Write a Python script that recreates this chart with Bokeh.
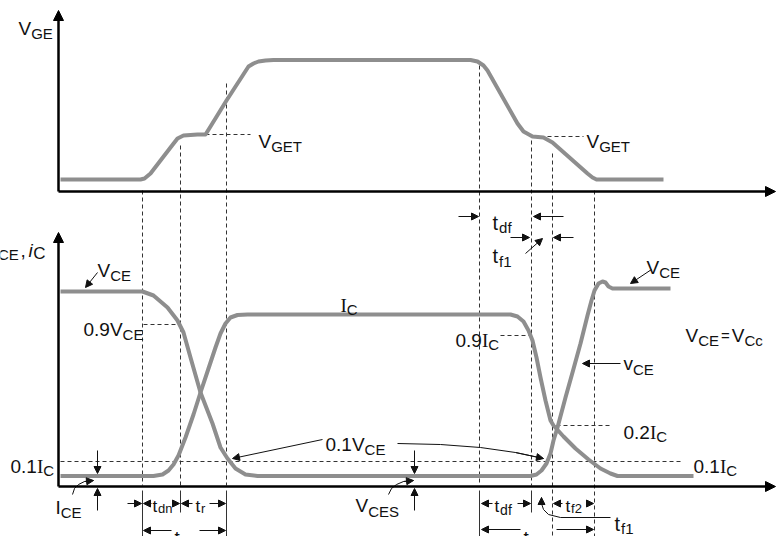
from bokeh.plotting import figure
from bokeh.models import Range1d, ColumnDataSource, Arrow, NormalHead
from bokeh.core.properties import value
from bokeh.embed import file_html
from bokeh.resources import INLINE

# ---------------- waveform data (diagram coordinates, y grows downward) -------------
vge_x = [60, 140, 144, 150, 160, 170, 177, 183, 197, 205, 210, 226, 248, 253, 258, 265, 273,
         470, 477, 483, 487, 517, 523, 532, 543, 552, 587, 592, 596, 663]
vge_y = [179, 179, 178, 173, 160, 147, 138, 135, 134, 134, 126, 100, 66, 63, 61, 60, 59.5,
         59.5, 61, 65, 70, 123, 131, 136, 137, 142, 173, 177, 179, 179]

vce_x = [60, 142, 153, 167, 177, 183, 190, 200, 212, 220, 227, 235, 245, 257,
         530, 536, 541, 546, 550, 553, 557, 565, 572, 580, 587, 591, 594, 598, 602, 605, 608, 612, 670]
vce_y = [291, 291, 295, 307, 320, 332, 357, 392, 423, 447, 458, 468, 474, 475.5,
         475.5, 474, 470, 463, 453, 440, 427, 397, 372, 343, 315, 300, 290, 283, 281, 282, 286, 288, 288]

ic_x = [60, 153, 162, 168, 173, 178, 185, 193, 200, 208, 215, 220, 225, 230, 237, 247,
        510, 517, 523, 528, 532, 536, 540, 545, 550, 553, 563, 575, 588, 600, 610, 617, 623, 693]
ic_y = [475.5, 475.5, 474, 470, 464, 455, 437, 414, 392, 368, 347, 333, 323, 317, 314.5, 314,
        314, 316, 321, 330, 340, 357, 377, 400, 420, 425, 436, 448, 459, 468, 473, 475.5, 475.5, 475.5]

# ---------------- guides ----------------
vguide_x = [142, 180, 226, 479, 531, 552, 594]
vguide_top = [190, 145, 83, 65, 140, 153, 190]
vguide_bottom = [485, 485, 485, 485, 485, 536, 536]

tick_x = [142, 180, 226, 479, 531]
tick_top = [490, 490, 490, 490, 490]
tick_bottom = [536, 512, 536, 536, 512]

hguide_x0 = [205, 547, 143, 500, 556, 60]
hguide_x1 = [250, 583, 180, 529, 610, 683]
hguide_y = [134, 136, 324, 335, 425, 461]

# axes (start -> arrow tip)
axis_x0 = [58, 58, 58, 58]
axis_y0 = [191, 191, 486, 486]
axis_x1 = [58, 775, 58, 775]
axis_y1 = [10, 191, 232, 486]

# small straight annotation arrows
arr_x0 = [97, 322, 620, 651, 458, 563, 510, 573, 525, 97, 97, 414, 414,
          127, 151, 172, 192, 209, 171, 199, 492, 517, 562, 587, 520, 556]
arr_y0 = [272, 439, 363, 269, 216, 216, 237, 237, 253, 450, 510, 450, 510,
          503, 503, 503, 503, 503, 530, 530, 503, 503, 503, 503, 529, 529]
arr_x1 = [85, 232, 582, 630, 478, 533, 529, 553, 542, 97, 97, 414, 414,
          141, 143, 179, 181, 225, 143, 225, 481, 530, 553, 593, 481, 593]
arr_y1 = [287, 458, 363, 283, 216, 216, 237, 237, 238, 473, 488, 473, 488,
          503, 503, 503, 503, 503, 530, 530, 503, 503, 503, 503, 529, 529]

# curved annotation arrows (head at the last point)
curve_xs = [[72, 74, 78, 84, 93],
            [388, 391, 396, 403, 413],
            [397, 440, 480, 515, 543],
            [610, 560, 548, 543, 541, 541]]
curve_ys = [[494, 488, 484, 481, 480],
            [494, 488, 484, 481, 480],
            [443, 444, 447, 452, 458],
            [517, 517, 514, 509, 503, 497]]

# labels: x, baseline y, main size, sub size, sub drop, runs
# run kinds: m=main sans, s=subscript, r=serif main, i=italic main, e=sub-size sign on main baseline
labels = [
    (18, 28, 19, 15, 5, [("V", "m"), ("GE", "s")]),
    (258, 141, 19, 15, 5, [("V", "m"), ("GET", "s")]),
    (586, 141, 19, 15, 5, [("V", "m"), ("GET", "s")]),
    (-12, 250, 19, 15, 4, [("v", "i"), ("CE", "s")]),
    (20, 250, 19, 15, 4, [(",", "m")]),
    (28, 250, 19, 17, 3, [("i", "i"), ("C", "s")]),
    (97, 270, 19, 15, 5, [("V", "m"), ("CE", "s")]),
    (340, 305, 19, 15, 4, [("I", "r"), ("C", "s")]),
    (83, 329, 19, 15, 5, [("0.9V", "m"), ("CE", "s")]),
    (455, 340, 19, 15, 4, [("0.9", "m"), ("I", "r"), ("C", "s")]),
    (685, 335, 19, 15, 5, [("V", "m"), ("CE", "s"), ("=", "e"), ("V", "m"), ("Cc", "s")]),
    (623, 363, 19, 15, 6, [("v", "m"), ("CE", "s")]),
    (646, 267, 19, 15, 5, [("V", "m"), ("CE", "s")]),
    (492, 222, 20, 15, 5, [("t", "m"), ("df", "s")]),
    (492, 255, 20, 15, 6, [("t", "m"), ("f1", "s")]),
    (325, 444, 19, 15, 5, [("0.1V", "m"), ("CE", "s")]),
    (623, 432, 19, 15, 4, [("0.2", "m"), ("I", "r"), ("C", "s")]),
    (693, 466, 19, 15, 4, [("0.1", "m"), ("I", "r"), ("C", "s")]),
    (10, 466, 19, 15, 4, [("0.1", "m"), ("I", "r"), ("C", "s")]),
    (55, 507, 19, 15, 5, [("I", "m"), ("CE", "s")]),
    (355, 505, 19, 15, 6, [("V", "m"), ("CES", "s")]),
    (152, 506, 17, 13, 2, [("t", "m"), ("dn", "s")]),
    (195, 506, 17, 13, 2, [("t", "m"), ("r", "s")]),
    (174, 537, 19, 15, 4, [("t", "m"), ("on", "s")]),
    (494, 506, 17, 14, 3, [("t", "m"), ("df", "s")]),
    (565, 506, 17, 13, 2, [("t", "m"), ("f2", "s")]),
    (614, 523, 20, 15, 5, [("t", "m"), ("f1", "s")]),
    (523, 537, 19, 15, 4, [("t", "m"), ("off", "s")]),
]

# ---------------- figure ----------------
GRAY = "#8e8e8e"
INK = "#111111"

p = figure(width=777, height=536, output_backend="svg", toolbar_location=None,
           x_range=Range1d(0, 777), y_range=Range1d(536, 0),
           x_axis_location=None, y_axis_location=None, min_border=0)
p.grid.visible = False
p.outline_line_color = None
p.background_fill_color = "white"
p.border_fill_color = "white"

# dashed guides
p.segment(x0=vguide_x, y0=vguide_top, x1=vguide_x, y1=vguide_bottom,
          line_color="#333333", line_width=1, line_dash="4 3")
p.segment(x0=hguide_x0, y0=hguide_y, x1=hguide_x1, y1=hguide_y,
          line_color="#333333", line_width=1, line_dash="4 3")
# solid ticks below the time axis
p.segment(x0=tick_x, y0=tick_top, x1=tick_x, y1=tick_bottom,
          line_color="#333333", line_width=1)

# waveforms
for xs, ys in ((vge_x, vge_y), (vce_x, vce_y), (ic_x, ic_y)):
    p.line(xs, ys, line_color=GRAY, line_width=4, line_join="round")

# axes with arrow heads
axis_src = ColumnDataSource(dict(x0=axis_x0, y0=axis_y0, x1=axis_x1, y1=axis_y1))
p.add_layout(Arrow(end=NormalHead(size=10, fill_color="black", line_color="black", line_width=1),
                   x_start="x0", y_start="y0", x_end="x1", y_end="y1",
                   source=axis_src, line_color="black", line_width=2.5))

# curved arrow bodies
p.multi_line(xs=curve_xs, ys=curve_ys, line_color=INK, line_width=1)

ax0 = list(arr_x0) + [c[-2] for c in curve_xs]
ay0 = list(arr_y0) + [c[-2] for c in curve_ys]
ax1 = list(arr_x1) + [c[-1] for c in curve_xs]
ay1 = list(arr_y1) + [c[-1] for c in curve_ys]
arr_src = ColumnDataSource(dict(x0=ax0, y0=ay0, x1=ax1, y1=ay1))
p.add_layout(Arrow(end=NormalHead(size=7, fill_color=INK, line_color=INK, line_width=1),
                   x_start="x0", y_start="y0", x_end="x1", y_end="y1",
                   source=arr_src, line_color=INK, line_width=1))

# text labels built from runs
WID = {'0': .556, '1': .556, '2': .556, '9': .556, '.': .278, ',': .278, ' ': .278,
       'V': .667, 'I': .278, 'C': .722, 'E': .667, 'G': .778, 'T': .611, 'S': .667,
       't': .33, 'd': .556, 'f': .278, 'n': .556, 'r': .333, 'o': .556, 'c': .5,
       'v': .5, 'i': .25, '=': .584}

groups = {"sans": dict(x=[], y=[], t=[], s=[]),
          "serif": dict(x=[], y=[], t=[], s=[]),
          "italic": dict(x=[], y=[], t=[], s=[])}
for (lx, ly, ms, ss, dy, runs) in labels:
    cx = lx
    for txt, kind in runs:
        if kind == "m":
            grp, size, yy = "sans", ms, ly
        elif kind == "s":
            grp, size, yy = "sans", ss, ly + dy
        elif kind == "r":
            grp, size, yy = "serif", ms, ly
        elif kind == "i":
            grp, size, yy = "italic", ms, ly
        else:
            grp, size, yy = "sans", ss, ly
            cx += 2
        g = groups[grp]
        g["x"].append(cx)
        g["y"].append(yy)
        g["t"].append(txt)
        g["s"].append(f"{size}px")
        w = 0.333 * size if kind == "r" else sum(WID.get(ch, 0.56) for ch in txt) * size
        if kind == "e":
            w += 2
        cx += w

fonts = {"sans": ("Liberation Sans", "normal"),
         "serif": ("Liberation Serif", "normal"),
         "italic": ("Liberation Sans", "italic")}
for name, g in groups.items():
    font, style = fonts[name]
    src = ColumnDataSource(g)
    p.text(x="x", y="y", text="t", text_font_size="s", source=src,
           text_font=value(font), text_font_style=style,
           text_align="left", text_baseline="alphabetic", text_color=INK)

open("out.html", "w").write(file_html(p, INLINE))
